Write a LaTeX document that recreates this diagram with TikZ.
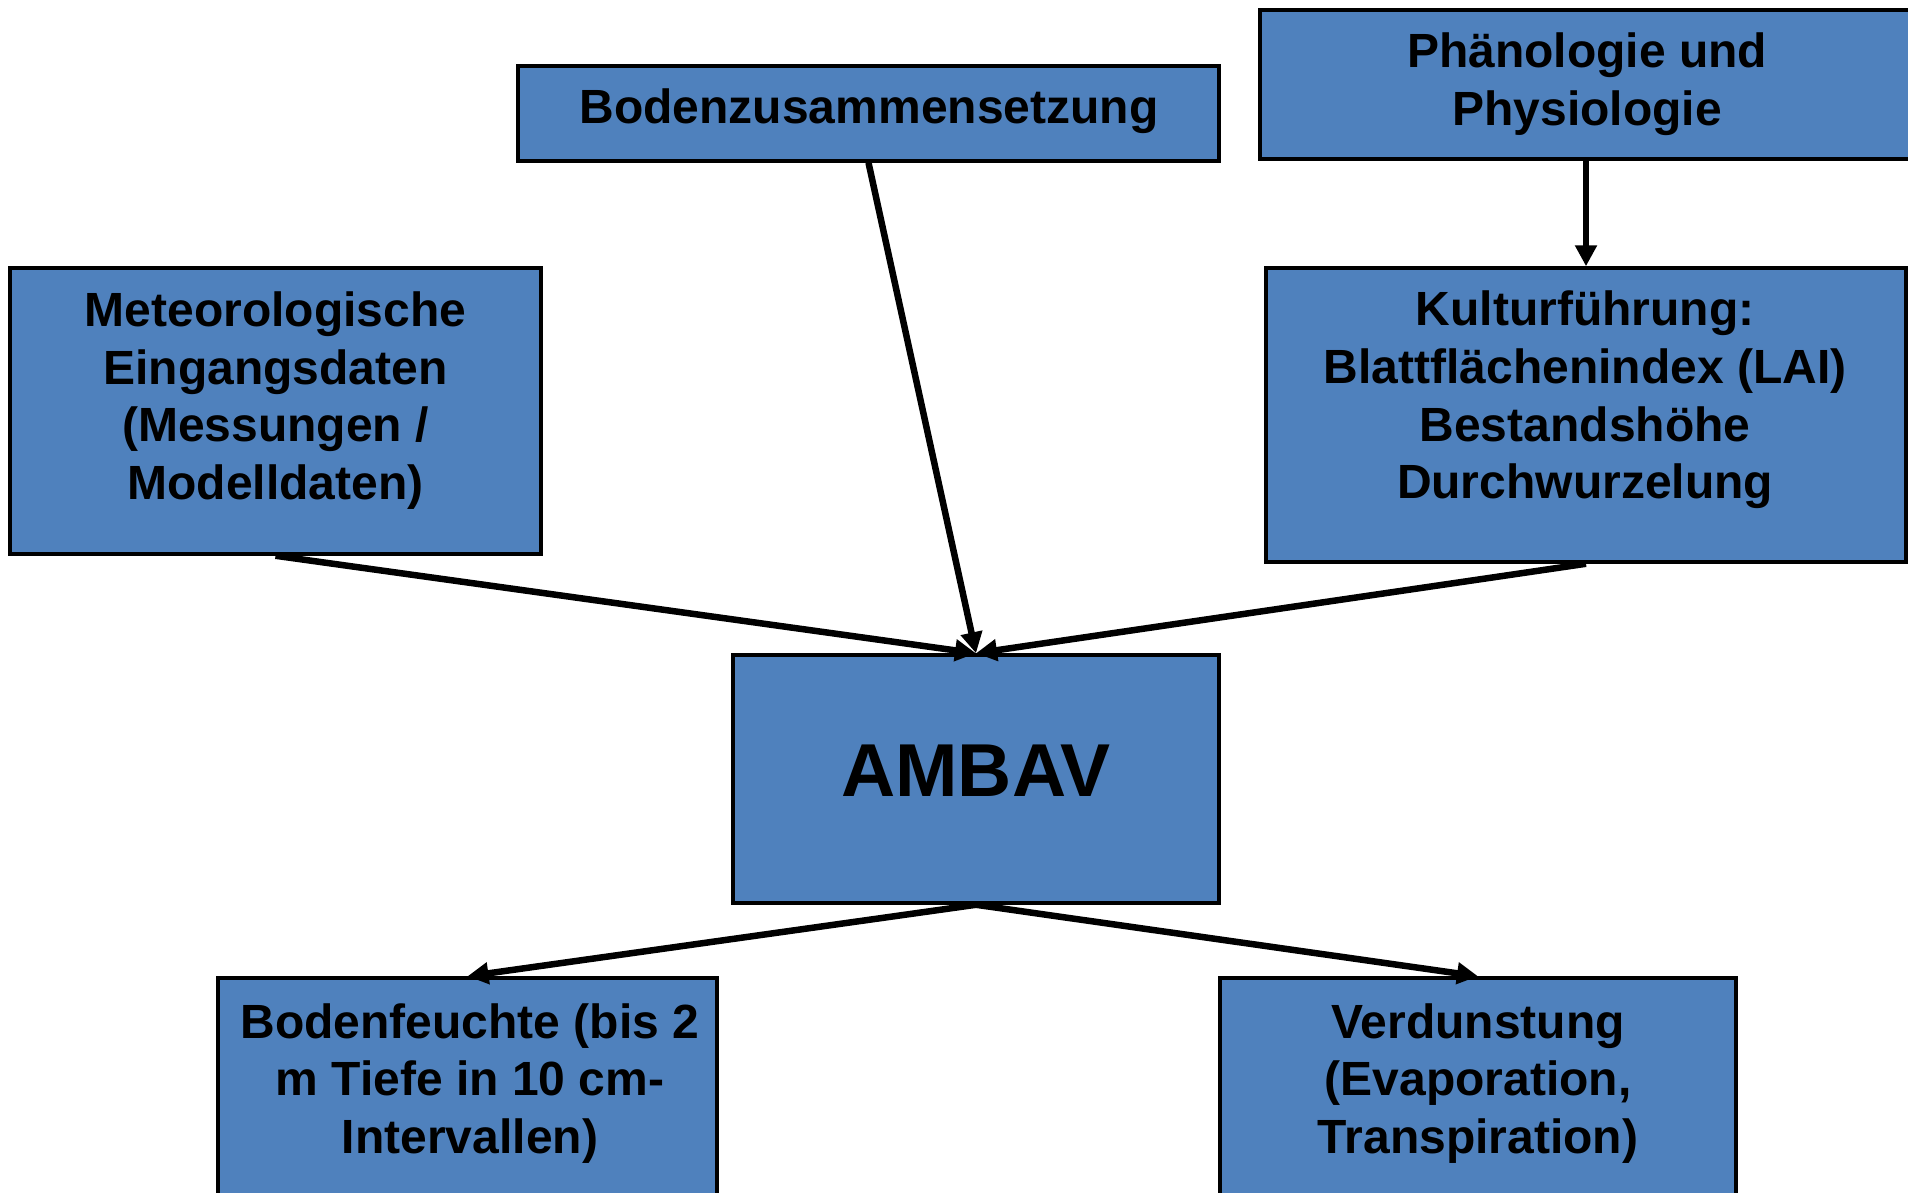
\documentclass[tikz,border=0pt]{standalone}
\usepackage{fontspec}
\setmainfont{Liberation Sans}
\usetikzlibrary{arrows.meta}
\definecolor{boxblue}{HTML}{4F81BD}
\tikzset{
  box/.style={draw=black, line width=3.5pt, fill=boxblue, inner sep=0pt},
  txt/.style={align=center, inner sep=0pt, font=\fontsize{48}{57.6}\selectfont\bfseries},
  big/.style={inner sep=0pt, font=\fontsize{75}{90}\selectfont\bfseries},
  arr/.style={line width=6.5pt, -{Triangle[length=21pt,width=21pt]}}
}
\begin{document}
\begin{tikzpicture}[x=1pt,y=-1pt]
\useasboundingbox (0,0) rectangle (1908,1193);
\clip (0,0) rectangle (1908,1193);
% boxes
\node[box, minimum width=701pt, minimum height=95pt] (bodenz) at (868.5,113.5) {};
\node[box, minimum width=652pt, minimum height=149pt] (phaen) at (1586,84.5) {};
\node[box, minimum width=531pt, minimum height=286pt] (meteo) at (275.5,411) {};
\node[box, minimum width=640pt, minimum height=294pt] (kultur) at (1586,415) {};
\node[box, minimum width=486pt, minimum height=248pt] (ambav) at (976,779) {};
\node[box, minimum width=499pt, minimum height=262pt] (bodenf) at (467.5,1109) {};
\node[box, minimum width=516pt, minimum height=262pt] (verd) at (1478,1109) {};
% texts
\node[txt] (tbodenz) at (869,111) {Bodenzusammensetzung};
\node[txt] (tphaen) at (1587,84) {Phänologie und\\Physiologie};
\node[txt] (tmeteo) at (275.5,400.5) {Meteorologische\\Eingangsdaten\\(Messungen /\\Modelldaten)};
\node[txt] (tkultur) at (1585,400) {Kulturführung:\\Blattflächenindex (LAI)\\Bestandshöhe\\Durchwurzelung};
\node[big] (tambav) at (976,771) {AMBAV};
\node[txt] (tbodenf) at (470,1083.5) {Bodenfeuchte (bis 2\\m Tiefe in 10 cm-\\Intervallen)};
\node[txt] (tverd) at (1478,1083.5) {Verdunstung\\(Evaporation,\\Transpiration)};
% connectors
\draw[arr] (phaen.south) -- (kultur.north);
\draw[arr] (bodenz.south) -- (ambav.north);
\draw[arr] (meteo.south) -- (ambav.north);
\draw[arr] (kultur.south) -- (ambav.north);
\draw[arr] (ambav.south) -- (bodenf.north);
\draw[arr] (ambav.south) -- (verd.north);
\end{tikzpicture}
\end{document}
